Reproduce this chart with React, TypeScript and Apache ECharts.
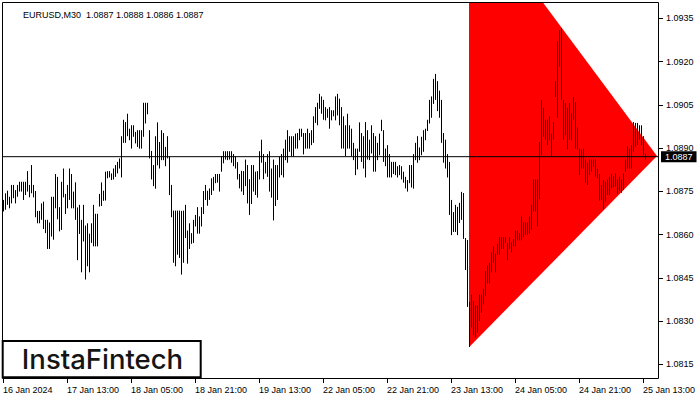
import React, { useEffect, useRef } from "react";
import * as echarts from "echarts";

const titleText = "EURUSD,M30  1.0887 1.0888 1.0886 1.0887";
const tickLabels = [
  "16 Jan 2024", "17 Jan 13:00", "18 Jan 05:00", "18 Jan 21:00", "19 Jan 13:00",
  "22 Jan 05:00", "22 Jan 21:00", "23 Jan 13:00", "24 Jan 05:00", "24 Jan 21:00", "25 Jan 13:00",
];
const priceTicks = [1.0815, 1.083, 1.0845, 1.086, 1.0875, 1.089, 1.0905, 1.092, 1.0935];
const lastPrice = 1.0887;
const barsPerLabel = 32;
const slotCount = 329;

const highs = [
  1.08720, 1.08743, 1.08752, 1.08731, 1.08772, 1.08772, 1.08754, 1.08772, 1.08783, 1.08783,
  1.08783, 1.08783, 1.08820, 1.08772, 1.08841, 1.08772, 1.08751, 1.08682, 1.08682, 1.08708,
  1.08714, 1.08651, 1.08651, 1.08642, 1.08731, 1.08731, 1.08810, 1.08800, 1.08695, 1.08783,
  1.08829, 1.08741, 1.08772, 1.08829, 1.08810, 1.08749, 1.08781, 1.08694, 1.08703, 1.08651,
  1.08703, 1.08631, 1.08639, 1.08603, 1.08639, 1.08703, 1.08672, 1.08672, 1.08741, 1.08781,
  1.08752, 1.08818, 1.08820, 1.08820, 1.08812, 1.08829, 1.08841, 1.08852, 1.08864, 1.08941,
  1.08998, 1.08990, 1.09019, 1.08967, 1.08979, 1.08979, 1.08956, 1.08962, 1.08962, 1.08962,
  1.09057, 1.09057, 1.09057, 1.08962, 1.08890, 1.08841, 1.08941, 1.08989, 1.08921, 1.08962,
  1.08952, 1.08904, 1.08941, 1.08870, 1.08772, 1.08683, 1.08683, 1.08683, 1.08683, 1.08682,
  1.08683, 1.08703, 1.08614, 1.08639, 1.08605, 1.08651, 1.08668, 1.08695, 1.08663, 1.08695,
  1.08751, 1.08772, 1.08752, 1.08760, 1.08795, 1.08800, 1.08810, 1.08810, 1.08810, 1.08872,
  1.08889, 1.08889, 1.08889, 1.08889, 1.08889, 1.08879, 1.08870, 1.08851, 1.08810, 1.08821,
  1.08820, 1.08860, 1.08841, 1.08792, 1.08841, 1.08841, 1.08818, 1.08820, 1.08889, 1.08929,
  1.08879, 1.08852, 1.08879, 1.08889, 1.08829, 1.08860, 1.08841, 1.08841, 1.08870, 1.08879,
  1.08898, 1.08929, 1.08962, 1.08941, 1.08941, 1.08941, 1.08950, 1.08952, 1.08967, 1.08967,
  1.08952, 1.08952, 1.08967, 1.08952, 1.08962, 1.09010, 1.09042, 1.09057, 1.09088, 1.09079,
  1.09067, 1.09042, 1.09036, 1.09042, 1.09031, 1.09031, 1.09079, 1.09088, 1.09071, 1.09042,
  1.09010, 1.08979, 1.09019, 1.08979, 1.08967, 1.08918, 1.08898, 1.08898, 1.08989, 1.08952,
  1.08941, 1.08990, 1.08962, 1.08929, 1.08979, 1.08952, 1.08941, 1.08918, 1.08950, 1.08998,
  1.08962, 1.08898, 1.08910, 1.08879, 1.08852, 1.08852, 1.08852, 1.08837, 1.08841, 1.08837,
  1.08818, 1.08800, 1.08789, 1.08841, 1.08841, 1.08879, 1.08918, 1.08941, 1.08902, 1.08939,
  1.08962, 1.08967, 1.08998, 1.09067, 1.09079, 1.09140, 1.09157, 1.09132, 1.09099, 1.09067,
  1.08952, 1.08929, 1.08879, 1.08852, 1.08720, 1.08678, 1.08703, 1.08696, 1.08710, 1.08748,
  1.08744, 1.08588, 1.08581, 1.08366, 1.08392, 1.08369, 1.08354, 1.08354, 1.08392, 1.08392,
  1.08412, 1.08473, 1.08492, 1.08502, 1.08538, 1.08559, 1.08534, 1.08568, 1.08591, 1.08591,
  1.08591, 1.08591, 1.08571, 1.08591, 1.08573, 1.08584, 1.08614, 1.08614, 1.08605, 1.08663,
  1.08642, 1.08642, 1.08642, 1.08663, 1.08703, 1.08791, 1.08791, 1.08791, 1.08921, 1.09067,
  1.09040, 1.08998, 1.08998, 1.09010, 1.08950, 1.08990, 1.09132, 1.09270, 1.09309, 1.09316,
  1.09067, 1.09056, 1.09040, 1.09056, 1.09021, 1.09077, 1.09059, 1.08971, 1.08898, 1.08895,
  1.08898, 1.08860, 1.08849, 1.08860, 1.08860, 1.08860, 1.08860, 1.08829, 1.08810, 1.08772,
  1.08789, 1.08783, 1.08791, 1.08801, 1.08810, 1.08803, 1.08812, 1.08791, 1.08801, 1.08791,
  1.08812, 1.08860, 1.08906, 1.08898, 1.08910, 1.08990, 1.08987, 1.08987, 1.08979, 1.08979,
  1.08941, 1.08880,
];

const lows = [
  1.08680, 1.08686, 1.08703, 1.08691, 1.08708, 1.08726, 1.08708, 1.08731, 1.08749, 1.08749,
  1.08720, 1.08737, 1.08749, 1.08729, 1.08743, 1.08729, 1.08660, 1.08639, 1.08639, 1.08651,
  1.08619, 1.08605, 1.08550, 1.08550, 1.08593, 1.08582, 1.08691, 1.08653, 1.08611, 1.08616,
  1.08729, 1.08671, 1.08691, 1.08720, 1.08691, 1.08691, 1.08651, 1.08511, 1.08602, 1.08469,
  1.08576, 1.08444, 1.08490, 1.08469, 1.08571, 1.08559, 1.08559, 1.08559, 1.08697, 1.08699,
  1.08717, 1.08718, 1.08795, 1.08798, 1.08789, 1.08791, 1.08800, 1.08812, 1.08829, 1.08798,
  1.08918, 1.08918, 1.08941, 1.08927, 1.08898, 1.08939, 1.08916, 1.08904, 1.08898, 1.08898,
  1.08939, 1.08985, 1.09017, 1.08864, 1.08791, 1.08768, 1.08759, 1.08840, 1.08829, 1.08858,
  1.08858, 1.08837, 1.08864, 1.08737, 1.08660, 1.08502, 1.08490, 1.08530, 1.08519, 1.08461,
  1.08502, 1.08588, 1.08499, 1.08550, 1.08568, 1.08571, 1.08628, 1.08603, 1.08603, 1.08628,
  1.08671, 1.08720, 1.08700, 1.08720, 1.08737, 1.08752, 1.08778, 1.08780, 1.08749, 1.08818,
  1.08847, 1.08860, 1.08858, 1.08860, 1.08849, 1.08837, 1.08829, 1.08791, 1.08760, 1.08749,
  1.08737, 1.08768, 1.08708, 1.08668, 1.08706, 1.08749, 1.08737, 1.08728, 1.08791, 1.08849,
  1.08792, 1.08812, 1.08800, 1.08749, 1.08728, 1.08649, 1.08699, 1.08720, 1.08798, 1.08806,
  1.08798, 1.08858, 1.08849, 1.08887, 1.08872, 1.08870, 1.08898, 1.08898, 1.08927, 1.08939,
  1.08878, 1.08898, 1.08898, 1.08898, 1.08910, 1.08918, 1.08987, 1.08979, 1.09036, 1.09019,
  1.08998, 1.08996, 1.09005, 1.08967, 1.08996, 1.09010, 1.08996, 1.09013, 1.08979, 1.08898,
  1.08898, 1.08872, 1.08898, 1.08898, 1.08872, 1.08858, 1.08806, 1.08826, 1.08887, 1.08852,
  1.08829, 1.08798, 1.08860, 1.08858, 1.08881, 1.08818, 1.08818, 1.08858, 1.08875, 1.08959,
  1.08852, 1.08837, 1.08798, 1.08798, 1.08798, 1.08810, 1.08806, 1.08798, 1.08806, 1.08791,
  1.08780, 1.08760, 1.08749, 1.08778, 1.08763, 1.08759, 1.08858, 1.08849, 1.08858, 1.08875,
  1.08887, 1.08927, 1.08959, 1.08985, 1.09005, 1.09053, 1.09067, 1.09028, 1.09005, 1.08918,
  1.08849, 1.08829, 1.08798, 1.08668, 1.08598, 1.08609, 1.08609, 1.08598, 1.08640, 1.08651,
  1.08585, 1.08477, 1.08349, 1.08210, 1.08277, 1.08251, 1.08243, 1.08260, 1.08300, 1.08329,
  1.08358, 1.08387, 1.08430, 1.08430, 1.08469, 1.08502, 1.08469, 1.08530, 1.08530, 1.08550,
  1.08550, 1.08571, 1.08511, 1.08550, 1.08538, 1.08559, 1.08559, 1.08580, 1.08580, 1.08580,
  1.08591, 1.08599, 1.08599, 1.08603, 1.08617, 1.08680, 1.08680, 1.08628, 1.08722, 1.08875,
  1.08939, 1.08929, 1.08910, 1.08927, 1.08872, 1.08929, 1.09077, 1.09005, 1.09182, 1.09067,
  1.08929, 1.08944, 1.08895, 1.08929, 1.08927, 1.08998, 1.08898, 1.08895, 1.08806, 1.08829,
  1.08829, 1.08780, 1.08772, 1.08806, 1.08818, 1.08835, 1.08801, 1.08795, 1.08718, 1.08720,
  1.08688, 1.08714, 1.08737, 1.08737, 1.08760, 1.08764, 1.08766, 1.08741, 1.08752, 1.08745,
  1.08755, 1.08818, 1.08829, 1.08829, 1.08829, 1.08887, 1.08904, 1.08910, 1.08929, 1.08910,
  1.08875, 1.08860,
];

const triangleIndex = [233, 233, 327];
const trianglePrice = [1.0975, 1.08209, 1.08872];

const FONT = "Liberation Sans";

export default function App() {
  const ref = useRef<HTMLDivElement>(null);
  useEffect(() => {
    document.body.style.margin = "0";
    if (!ref.current) return;
    const chart = echarts.init(ref.current, null, { renderer: "svg" });
    const categories = Array.from({ length: slotCount }, (_, i) => String(i));
    const barData = highs.map((h, i) => [i, h, lows[i]]);
    chart.setOption({
      animation: false,
      backgroundColor: "#fff",
      title: {
        text: titleText,
        left: 18,
        top: 5,
        textStyle: { fontSize: 9, fontWeight: "normal", color: "#000", fontFamily: FONT },
      },
      grid: {
        left: 3,
        top: 3,
        width: 656,
        height: 376,
        show: false,
      },
      xAxis: {
        type: "category",
        data: categories,
        boundaryGap: false,
        axisLine: { show: false },
        axisTick: { show: true, interval: barsPerLabel - 1, length: 4, lineStyle: { color: "#000" } },
        axisLabel: {
          interval: barsPerLabel - 1,
          align: "left",
          margin: 6,
          fontSize: 9,
          color: "#000",
          fontFamily: FONT,
          formatter: (_v: string, idx: number) => tickLabels[idx / barsPerLabel] ?? "",
        },
        splitLine: { show: false },
      },
      yAxis: {
        type: "value",
        position: "right",
        min: 1.08099,
        max: 1.09403,
        axisLine: { show: false },
        axisTick: { show: true, length: 4, customValues: priceTicks, lineStyle: { color: "#000" } },
        axisLabel: {
          customValues: priceTicks,
          margin: 7,
          fontSize: 9,
          color: "#000",
          fontFamily: FONT,
          formatter: (v: number) => v.toFixed(4),
        },
        splitLine: { show: false },
      },
      series: [
        {
          type: "custom",
          z: 1,
          silent: true,
          data: [[triangleIndex[0], trianglePrice[0]]],
          encode: { x: 0, y: 1 },
          renderItem: (params: any, api: any) => {
            const pts = triangleIndex.map((ix, k) => api.coord([ix, trianglePrice[k]]));
            const cs = params.coordSys;
            return {
              type: "polygon",
              shape: { points: pts },
              style: { fill: "#ff0000", stroke: null },
              clipPath: { type: "rect", shape: { x: cs.x, y: cs.y, width: cs.width, height: cs.height } },
            };
          },
        },
        {
          type: "custom",
          z: 2,
          silent: true,
          data: barData,
          encode: { x: 0, y: [1, 2] },
          renderItem: (_params: any, api: any) => {
            const i = api.value(0);
            const top = api.coord([i, api.value(1)]);
            const bot = api.coord([i, api.value(2)]);
            const x = Math.round(top[0]) + 0.5;
            return {
              type: "line",
              shape: { x1: x, y1: top[1], x2: x, y2: bot[1] },
              style: { stroke: "#000", lineWidth: 1 },
            };
          },
        },
        {
          type: "line",
          z: 3,
          silent: true,
          symbol: "none",
          data: [[0, lastPrice], [slotCount - 1, lastPrice]],
          lineStyle: { color: "#000", width: 1 },
          endLabel: {
            show: true,
            distance: 2,
            formatter: () => lastPrice.toFixed(4),
            color: "#fff",
            backgroundColor: "#000",
            padding: [1, 4, 1, 4],
            fontSize: 9,
            fontFamily: FONT,
          },
        },
      ],
      graphic: [
        {
          type: "rect",
          z: 50,
          silent: true,
          shape: { x: 2.5, y: 2.5, width: 656, height: 376 },
          style: { fill: "none", stroke: "#000", lineWidth: 1 },
        },
        {
          type: "group",
          z: 100,
          children: [
            {
              type: "rect",
              shape: { x: 2.7, y: 341, width: 198, height: 36.3 },
              style: { fill: "#fff", stroke: "#000", lineWidth: 2 },
            },
            {
              type: "text",
              x: 102.5,
              y: 359,
              style: {
                text: "InstaFintech",
                fill: "#151515",
                fontSize: 27.5,
                fontWeight: 500,
                fontFamily: "Inter",
                align: "center",
                verticalAlign: "middle",
              },
            },
          ],
        },
      ],
    });
    return () => chart.dispose();
  }, []);
  return <div ref={ref} style={{ width: 700, height: 400 }} />;
}
